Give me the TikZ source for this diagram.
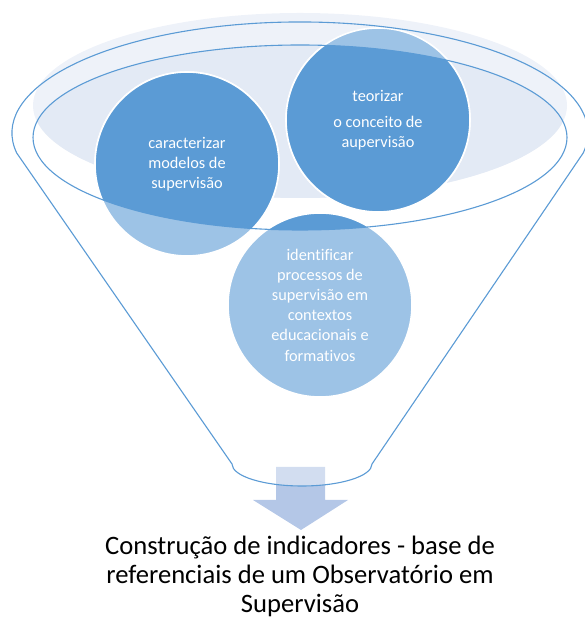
\documentclass[tikz,border=0pt]{standalone}
\usepackage{fontspec}
\setmainfont{Carlito}[Ligatures=NoCommon]
\begin{document}
\begin{tikzpicture}[x=1pt,y=1pt]
\definecolor{darkb}{HTML}{5B9BD5}
\definecolor{lightb}{HTML}{9DC3E6}
\definecolor{rimA}{HTML}{EEF2F9}
\definecolor{rimB}{HTML}{E3EAF5}
\definecolor{arrowc}{HTML}{B4C7E7}
\definecolor{outlc}{HTML}{5B9BD5}
\tikzset{
  outl/.style={draw=outlc, line width=1.1pt},
  circnode/.style={circle, minimum size=184pt, inner sep=0pt, fill=lightb, draw=white, line width=1.6pt},
  ctext/.style={text=white, align=center, font=\fontsize{16.3}{20.2}\selectfont},
  btext/.style={text=black, align=center, inner sep=0pt, font=\fontsize{26.6}{29}\selectfont}
}
\useasboundingbox (0,0) rectangle (584,621);
% arrow
\fill[arrowc] (276,154) -- (325,154) -- (325,121) -- (348,121) -- (301,91) -- (253,121) -- (276,121) -- cycle;
% funnel interior veil
\fill[white, opacity=0.4] (16.7,468) arc[start angle=190.4, end angle=-10.4, x radius=288, y radius=111]
  -- (372,157) arc[start angle=0, end angle=-180, x radius=70, y radius=22] -- cycle;
% rim fill
\fill[rimA] (300,515.5) ellipse [x radius=267, y radius=92.5];
\begin{scope}
  \clip (300,483.5) ellipse [x radius=267, y radius=92.5];
  \fill[rimB] (300,515.5) ellipse [x radius=267, y radius=92.5];
\end{scope}
% circles
\node[circnode] (c1) at (187,457) {};
\node[circnode] (c2) at (378,501) {};
\node[circnode] (c3) at (320,316) {};
\begin{scope}
  \clip (300,483.5) ellipse [x radius=267, y radius=92.5];
  \foreach \c in {c1,c2,c3}{
    \draw[fill=darkb, draw=white, line width=1.6pt] (\c.center) circle (92);
  }
\end{scope}
% outlines
\draw[outl] (16.7,468) arc[start angle=190.4, end angle=-10.4, x radius=288, y radius=111]
  -- (372,157) arc[start angle=0, end angle=-180, x radius=70, y radius=22] -- cycle;
\draw[outl] (300,483.5) ellipse [x radius=267, y radius=92.5];
% texts
\node[ctext] (t1) at (c1.center) {caracterizar\\modelos de\\supervisão};
\node[ctext] (t2) at (c2.center) {teorizar\\[6pt]o conceito de\\aupervisão};
\node[ctext] (t3) at (c3.center) {identificar\\processos de\\supervisão em\\contextos\\educacionais e\\formativos};
\node[btext] (res) at (300,45) {Construção de indicadores - base de\\referenciais de um Observatório em\\Supervisão};
\end{tikzpicture}
\end{document}
